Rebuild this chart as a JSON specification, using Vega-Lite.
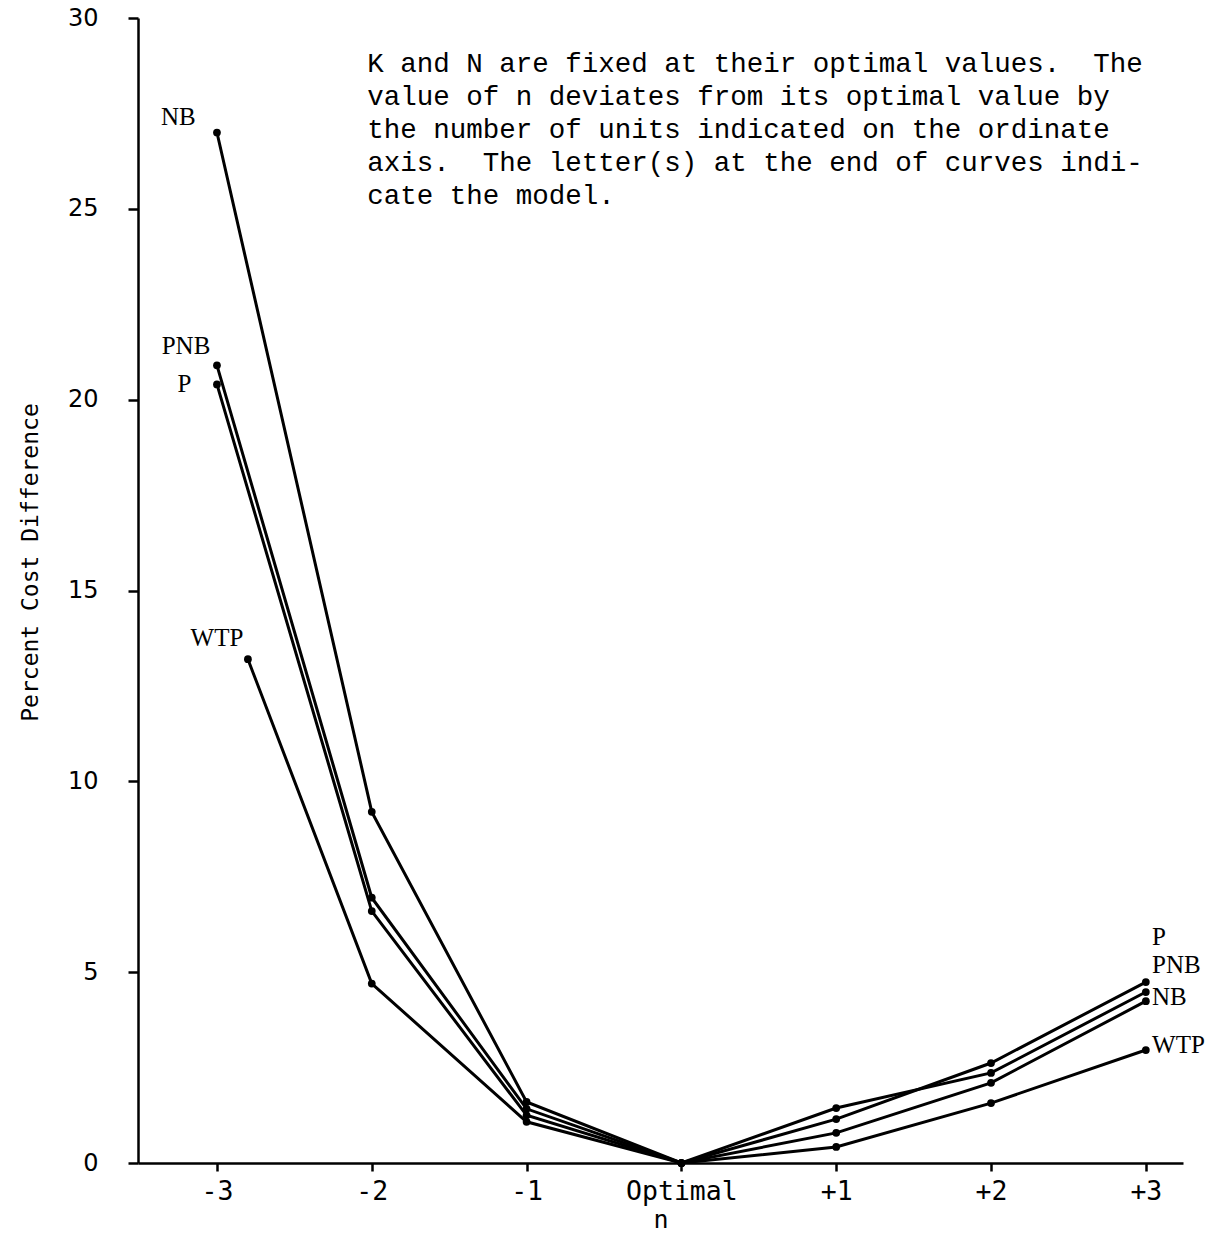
{
  "$schema": "https://vega.github.io/schema/vega-lite/v6.json",
  "width": 1045,
  "height": 1145,
  "autosize": {"type": "none"},
  "padding": {"left": 138, "top": 18, "right": 30, "bottom": 70},
  "background": "white",
  "config": {
    "view": {"stroke": null},
    "axis": {"grid": false, "domainColor": "black", "tickColor": "black", "labelColor": "black", "titleColor": "black", "domainWidth": 2.5, "tickWidth": 2.5}
  },
  "datasets": {
    "curves": [
      {"model": "NB", "n": -3, "pct": 27.0},
      {"model": "NB", "n": -2, "pct": 9.2},
      {"model": "NB", "n": -1, "pct": 1.6},
      {"model": "NB", "n": 0, "pct": 0},
      {"model": "NB", "n": 1, "pct": 0.79},
      {"model": "NB", "n": 2, "pct": 2.1},
      {"model": "NB", "n": 3, "pct": 4.24},
      {"model": "PNB", "n": -3, "pct": 20.9},
      {"model": "PNB", "n": -2, "pct": 6.95},
      {"model": "PNB", "n": -1, "pct": 1.42},
      {"model": "PNB", "n": 0, "pct": 0},
      {"model": "PNB", "n": 1, "pct": 1.44},
      {"model": "PNB", "n": 2, "pct": 2.36},
      {"model": "PNB", "n": 3, "pct": 4.48},
      {"model": "P", "n": -3, "pct": 20.4},
      {"model": "P", "n": -2, "pct": 6.6},
      {"model": "P", "n": -1, "pct": 1.25},
      {"model": "P", "n": 0, "pct": 0},
      {"model": "P", "n": 1, "pct": 1.15},
      {"model": "P", "n": 2, "pct": 2.62},
      {"model": "P", "n": 3, "pct": 4.74},
      {"model": "WTP", "n": -2.8, "pct": 13.2},
      {"model": "WTP", "n": -2, "pct": 4.7},
      {"model": "WTP", "n": -1, "pct": 1.08},
      {"model": "WTP", "n": 0, "pct": 0},
      {"model": "WTP", "n": 1, "pct": 0.42},
      {"model": "WTP", "n": 2, "pct": 1.57},
      {"model": "WTP", "n": 3, "pct": 2.96}
    ],
    "leftLabels": [
      {"label": "NB", "n": -3.25, "pct": 27.4},
      {"label": "PNB", "n": -3.2, "pct": 21.4},
      {"label": "P", "n": -3.21, "pct": 20.4},
      {"label": "WTP", "n": -3.0, "pct": 13.75}
    ],
    "rightLabels": [
      {"label": "P", "n": 3.04, "pct": 5.92},
      {"label": "PNB", "n": 3.04, "pct": 5.19},
      {"label": "NB", "n": 3.04, "pct": 4.35},
      {"label": "WTP", "n": 3.04, "pct": 3.09}
    ],
    "note": [
      {"n": -2.03, "pct": 29.15, "text": "K and N are fixed at their optimal values. \u00a0The\nvalue of n deviates from its optimal value by\nthe number of units indicated on the ordinate\naxis. \u00a0The letter(s) at the end of curves indi-\ncate the model."}
    ]
  },
  "layer": [
    {
      "data": {"name": "curves"},
      "mark": {"type": "line", "color": "black", "strokeWidth": 3, "point": {"filled": true, "color": "black", "size": 60}},
      "encoding": {
        "x": {
          "field": "n", "type": "quantitative",
          "scale": {"domain": [-3.51, 3.24], "nice": false, "zero": false},
          "axis": {
            "values": [-3, -2, -1, 0, 1, 2, 3],
            "labelExpr": "datum.value == 0 ? 'Optimal' : (datum.value > 0 ? '+' + datum.value : '-' + abs(datum.value))",
            "labelFont": "DejaVu Sans Mono", "labelFontSize": 26.5, "labelPadding": 7, "tickSize": 8,
            "title": "n", "titleFont": "DejaVu Sans Mono", "titleFontSize": 25, "titleFontWeight": "normal", "titlePadding": 3
          }
        },
        "y": {
          "field": "pct", "type": "quantitative",
          "scale": {"domain": [0, 30], "nice": false},
          "axis": {
            "values": [0, 5, 10, 15, 20, 25, 30],
            "labelFont": "DejaVu Sans", "labelFontSize": 24, "labelPadding": 30, "tickSize": 10,
            "title": "Percent Cost Difference", "titleFont": "DejaVu Sans Mono", "titleFontSize": 23, "titleFontWeight": "normal",
            "titleX": -108, "titleY": 544, "titleAngle": -90, "titleBaseline": "middle", "titleAlign": "center"
          }
        },
        "detail": {"field": "model", "type": "nominal"}
      }
    },
    {
      "data": {"name": "leftLabels"},
      "mark": {"type": "text", "font": "Liberation Serif", "fontSize": 25, "align": "center", "baseline": "middle", "color": "black"},
      "encoding": {
        "x": {"field": "n", "type": "quantitative"},
        "y": {"field": "pct", "type": "quantitative"},
        "text": {"field": "label", "type": "nominal"}
      }
    },
    {
      "data": {"name": "rightLabels"},
      "mark": {"type": "text", "font": "Liberation Serif", "fontSize": 25, "align": "left", "baseline": "middle", "color": "black"},
      "encoding": {
        "x": {"field": "n", "type": "quantitative"},
        "y": {"field": "pct", "type": "quantitative"},
        "text": {"field": "label", "type": "nominal"}
      }
    },
    {
      "data": {"name": "note"},
      "mark": {"type": "text", "font": "Liberation Mono", "fontSize": 27.5, "align": "left", "baseline": "top", "lineBreak": "\n", "lineHeight": 33, "color": "black"},
      "encoding": {
        "x": {"field": "n", "type": "quantitative"},
        "y": {"field": "pct", "type": "quantitative"},
        "text": {"field": "text", "type": "nominal"}
      }
    }
  ]
}
